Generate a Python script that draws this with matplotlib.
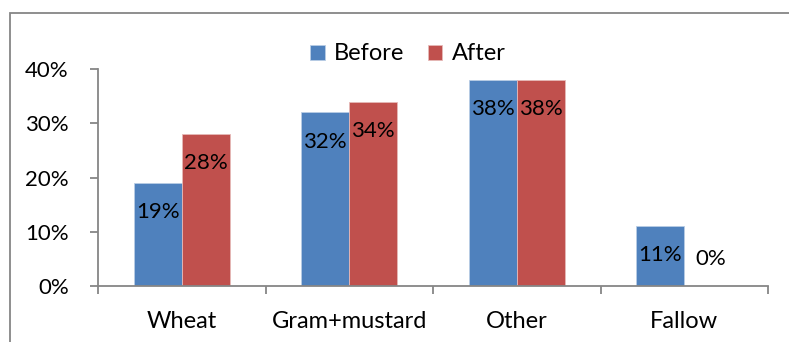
import matplotlib
matplotlib.use("Agg")
import matplotlib.pyplot as plt
from matplotlib.patches import Rectangle
import numpy as np

categories = ["Wheat", "Gram+mustard", "Other", "Fallow"]
before = [19, 32, 38, 11]
after = [28, 34, 38, 0]
series_names = ["Before", "After"]
yticks = [0, 10, 20, 30, 40]

BLUE = "#4F81BD"
RED = "#C0504D"
AXIS = "#868686"
NUM_SIZE = 16
WORD_SIZE = 17

plt.rcParams["font.family"] = ["Lato", "DejaVu Sans"]

fig = plt.figure(figsize=(7.89, 3.42), dpi=100)
ax = fig.add_axes([98 / 789, 56 / 342, 670 / 789, 217 / 342])

# chart frame
fig.patches.append(Rectangle((10 / 789, -0.1), 1.2, (342 - 13) / 342 + 0.1,
                             transform=fig.transFigure, fill=False,
                             edgecolor=AXIS, linewidth=1.3, zorder=0))

x = np.arange(len(categories))
w = 48 / 167.5
b1 = ax.bar(x - w / 2, before, w, color=BLUE, edgecolor="#b9cde5", linewidth=0.6, label=series_names[0])
b2 = ax.bar(x + w / 2, after, w, color=RED, edgecolor="#e6b9b8", linewidth=0.6, label=series_names[1])

for bars, vals in ((b1, before), (b2, after)):
    for rect, v in zip(bars, vals):
        cx = rect.get_x() + rect.get_width() / 2
        if v > 0:
            ax.annotate(f"{v}%", (cx, v), xytext=(0, -21), textcoords="offset points",
                        ha="center", va="center", fontsize=NUM_SIZE, color="black")
        else:
            ax.annotate(f"{v}%", (cx, 0), xytext=(2, 19.5), textcoords="offset points",
                        ha="center", va="center", fontsize=NUM_SIZE, color="black")

ax.set_xlim(-0.5, len(categories) - 0.5)
ax.set_ylim(0, 40)
ax.set_yticks(yticks)
ax.set_yticklabels([f"{t}%" for t in yticks])
ax.set_xticks(np.arange(-0.5, len(categories), 1.0))
ax.set_xticklabels([])
ax.set_xticks(x, minor=True)
ax.set_xticklabels(categories, minor=True)

for s in ("top", "right"):
    ax.spines[s].set_visible(False)
for s in ("left", "bottom"):
    ax.spines[s].set_color(AXIS)
    ax.spines[s].set_linewidth(1.3)

ax.tick_params(axis="y", which="major", direction="out", length=6, width=1.3,
               color=AXIS, labelsize=NUM_SIZE, pad=15)
ax.tick_params(axis="x", which="major", direction="out", length=6, width=1.3, color=AXIS)
ax.tick_params(axis="x", which="minor", length=0, labelsize=WORD_SIZE, pad=18)

fig.legend(handles=[b1, b2], labels=series_names, loc="center", bbox_to_anchor=(408 / 789, 1 - 54 / 342),
           ncol=2, frameon=False, fontsize=WORD_SIZE, handlelength=0.6, handleheight=0.6,
           handletextpad=0.4, columnspacing=1.0)

fig.savefig("out.png", dpi=100)
